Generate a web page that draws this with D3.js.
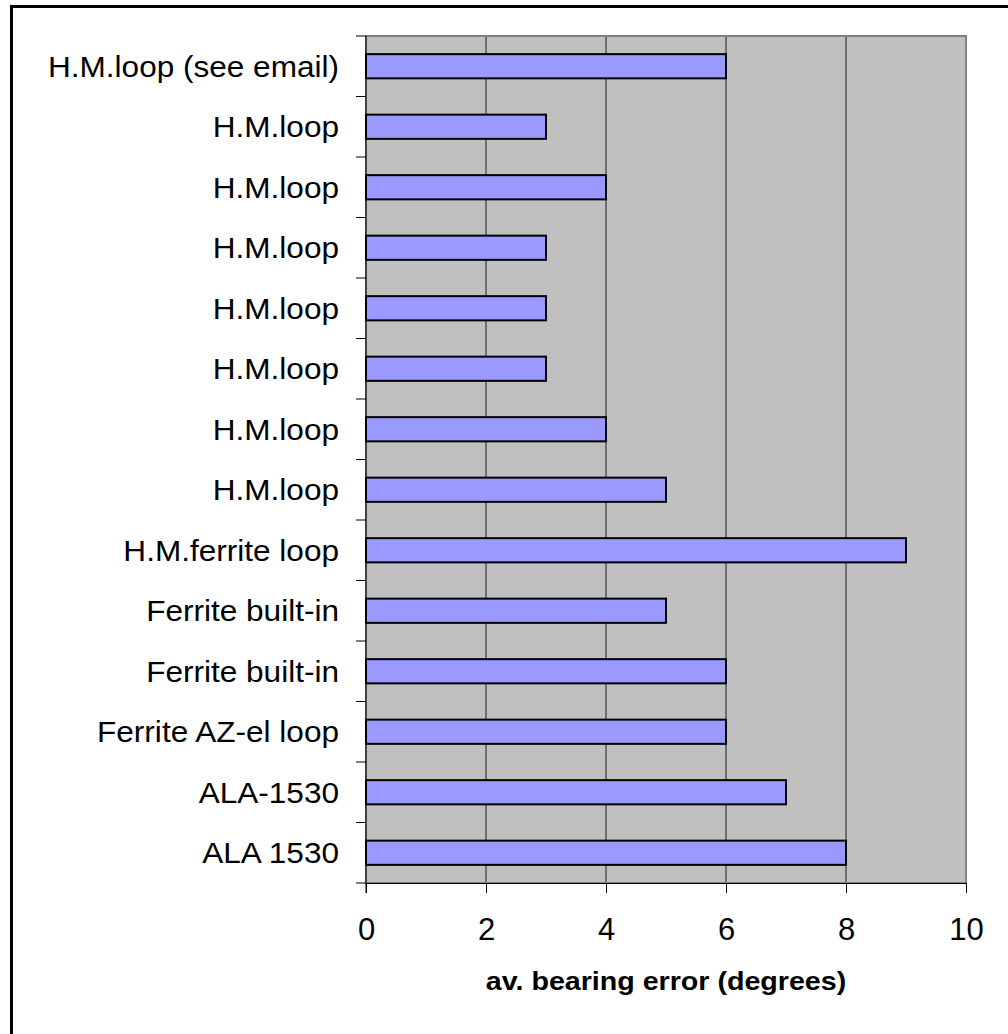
<!DOCTYPE html>
<html>
<head>
<meta charset="utf-8">
<script src="https://cdn.jsdelivr.net/npm/d3@7"></script>
<style>
  html, body { margin: 0; padding: 0; background: #ffffff; }
  svg { display: block; }
  text { font-family: "Liberation Sans", Arial, sans-serif; fill: #000; }
</style>
</head>
<body>
<svg id="chart" width="1008" height="1034"></svg>
<script>
// Receiver setups, listed top to bottom
const categories = [
  "H.M.loop (see email)",
  "H.M.loop",
  "H.M.loop",
  "H.M.loop",
  "H.M.loop",
  "H.M.loop",
  "H.M.loop",
  "H.M.loop",
  "H.M.ferrite loop",
  "Ferrite built-in",
  "Ferrite built-in",
  "Ferrite AZ-el loop",
  "ALA-1530",
  "ALA 1530"
];
// Average bearing error in degrees for each setup
const bearingError = [6, 3, 4, 3, 3, 3, 4, 5, 9, 5, 6, 6, 7, 8];
const xTicks = [0, 2, 4, 6, 8, 10];
const xTitle = "av. bearing error (degrees)";

const svg = d3.select("#chart");
const plot = { left: 366, right: 966, top: 36, bottom: 883 };

// Outer frame (open on the right and bottom edges of the page)
svg.append("path")
  .attr("d", "M11.5,1040 L11.5,6.5 L1020,6.5")
  .attr("fill", "none")
  .attr("stroke", "#000")
  .attr("stroke-width", 3);

const x = d3.scaleLinear().domain([0, 10]).range([plot.left, plot.right]);
const idx = categories.map((_, i) => i);
const y = d3.scaleBand().domain(idx).range([plot.top, plot.bottom])
  .paddingInner(0.6).paddingOuter(0.3);
const yEdges = d3.scaleLinear().domain([0, categories.length]).range([plot.top, plot.bottom]);

// Plot background
svg.append("rect")
  .attr("x", plot.left).attr("y", plot.top)
  .attr("width", plot.right - plot.left).attr("height", plot.bottom - plot.top)
  .attr("fill", "#c0c0c0");

// Vertical gridlines
svg.append("g").selectAll("line")
  .data(xTicks.slice(1, -1))
  .join("line")
  .attr("x1", d => x(d)).attr("x2", d => x(d))
  .attr("y1", plot.top).attr("y2", plot.bottom)
  .attr("stroke", "#555").attr("stroke-width", 1.5);

// Plot border
svg.append("rect")
  .attr("x", plot.left).attr("y", plot.top)
  .attr("width", plot.right - plot.left).attr("height", plot.bottom - plot.top)
  .attr("fill", "none").attr("stroke", "#808080").attr("stroke-width", 2);

// Bars
svg.append("g").selectAll("rect")
  .data(bearingError)
  .join("rect")
  .attr("x", x(0))
  .attr("y", (d, i) => y(i))
  .attr("width", d => x(d) - x(0))
  .attr("height", y.bandwidth())
  .attr("fill", "#9999ff")
  .attr("stroke", "#000")
  .attr("stroke-width", 2);

// Category axis: line, tick marks between bands, labels
const yAxis = svg.append("g");
yAxis.append("line")
  .attr("x1", plot.left).attr("x2", plot.left)
  .attr("y1", plot.top).attr("y2", plot.bottom + 10)
  .attr("stroke", "#000").attr("stroke-width", 1);
yAxis.selectAll("line.tick")
  .data(d3.range(categories.length + 1))
  .join("line")
  .attr("class", "tick")
  .attr("x1", plot.left - 10).attr("x2", plot.left)
  .attr("y1", d => yEdges(d)).attr("y2", d => yEdges(d))
  .attr("stroke", "#000").attr("stroke-width", 1);
yAxis.selectAll("text")
  .data(categories)
  .join("text")
  .attr("transform", (d, i) => `translate(${plot.left - 27},${y(i) + y.bandwidth() / 2}) scale(1.07,1)`)
  .attr("dy", "0.36em")
  .attr("text-anchor", "end")
  .attr("font-size", 29.5)
  .text(d => d);

// Value axis
const xAxis = d3.axisBottom(x).tickValues(xTicks).tickSize(10).tickPadding(25).tickFormat(d3.format("d"));
const xg = svg.append("g")
  .attr("transform", `translate(0,${plot.bottom})`)
  .call(xAxis);
xg.select(".domain").attr("stroke", "#000").attr("stroke-width", 1);
xg.selectAll(".tick line").attr("stroke", "#000");
xg.selectAll(".tick text")
  .attr("font-family", "Liberation Sans, Arial, sans-serif")
  .attr("font-size", 31).attr("fill", "#000");

svg.append("text")
  .attr("transform", `translate(${(plot.left + plot.right) / 2},990) scale(1.145,1)`)
  .attr("text-anchor", "middle")
  .attr("font-size", 25)
  .attr("font-weight", "bold")
  .text(xTitle);
</script>
</body>
</html>
